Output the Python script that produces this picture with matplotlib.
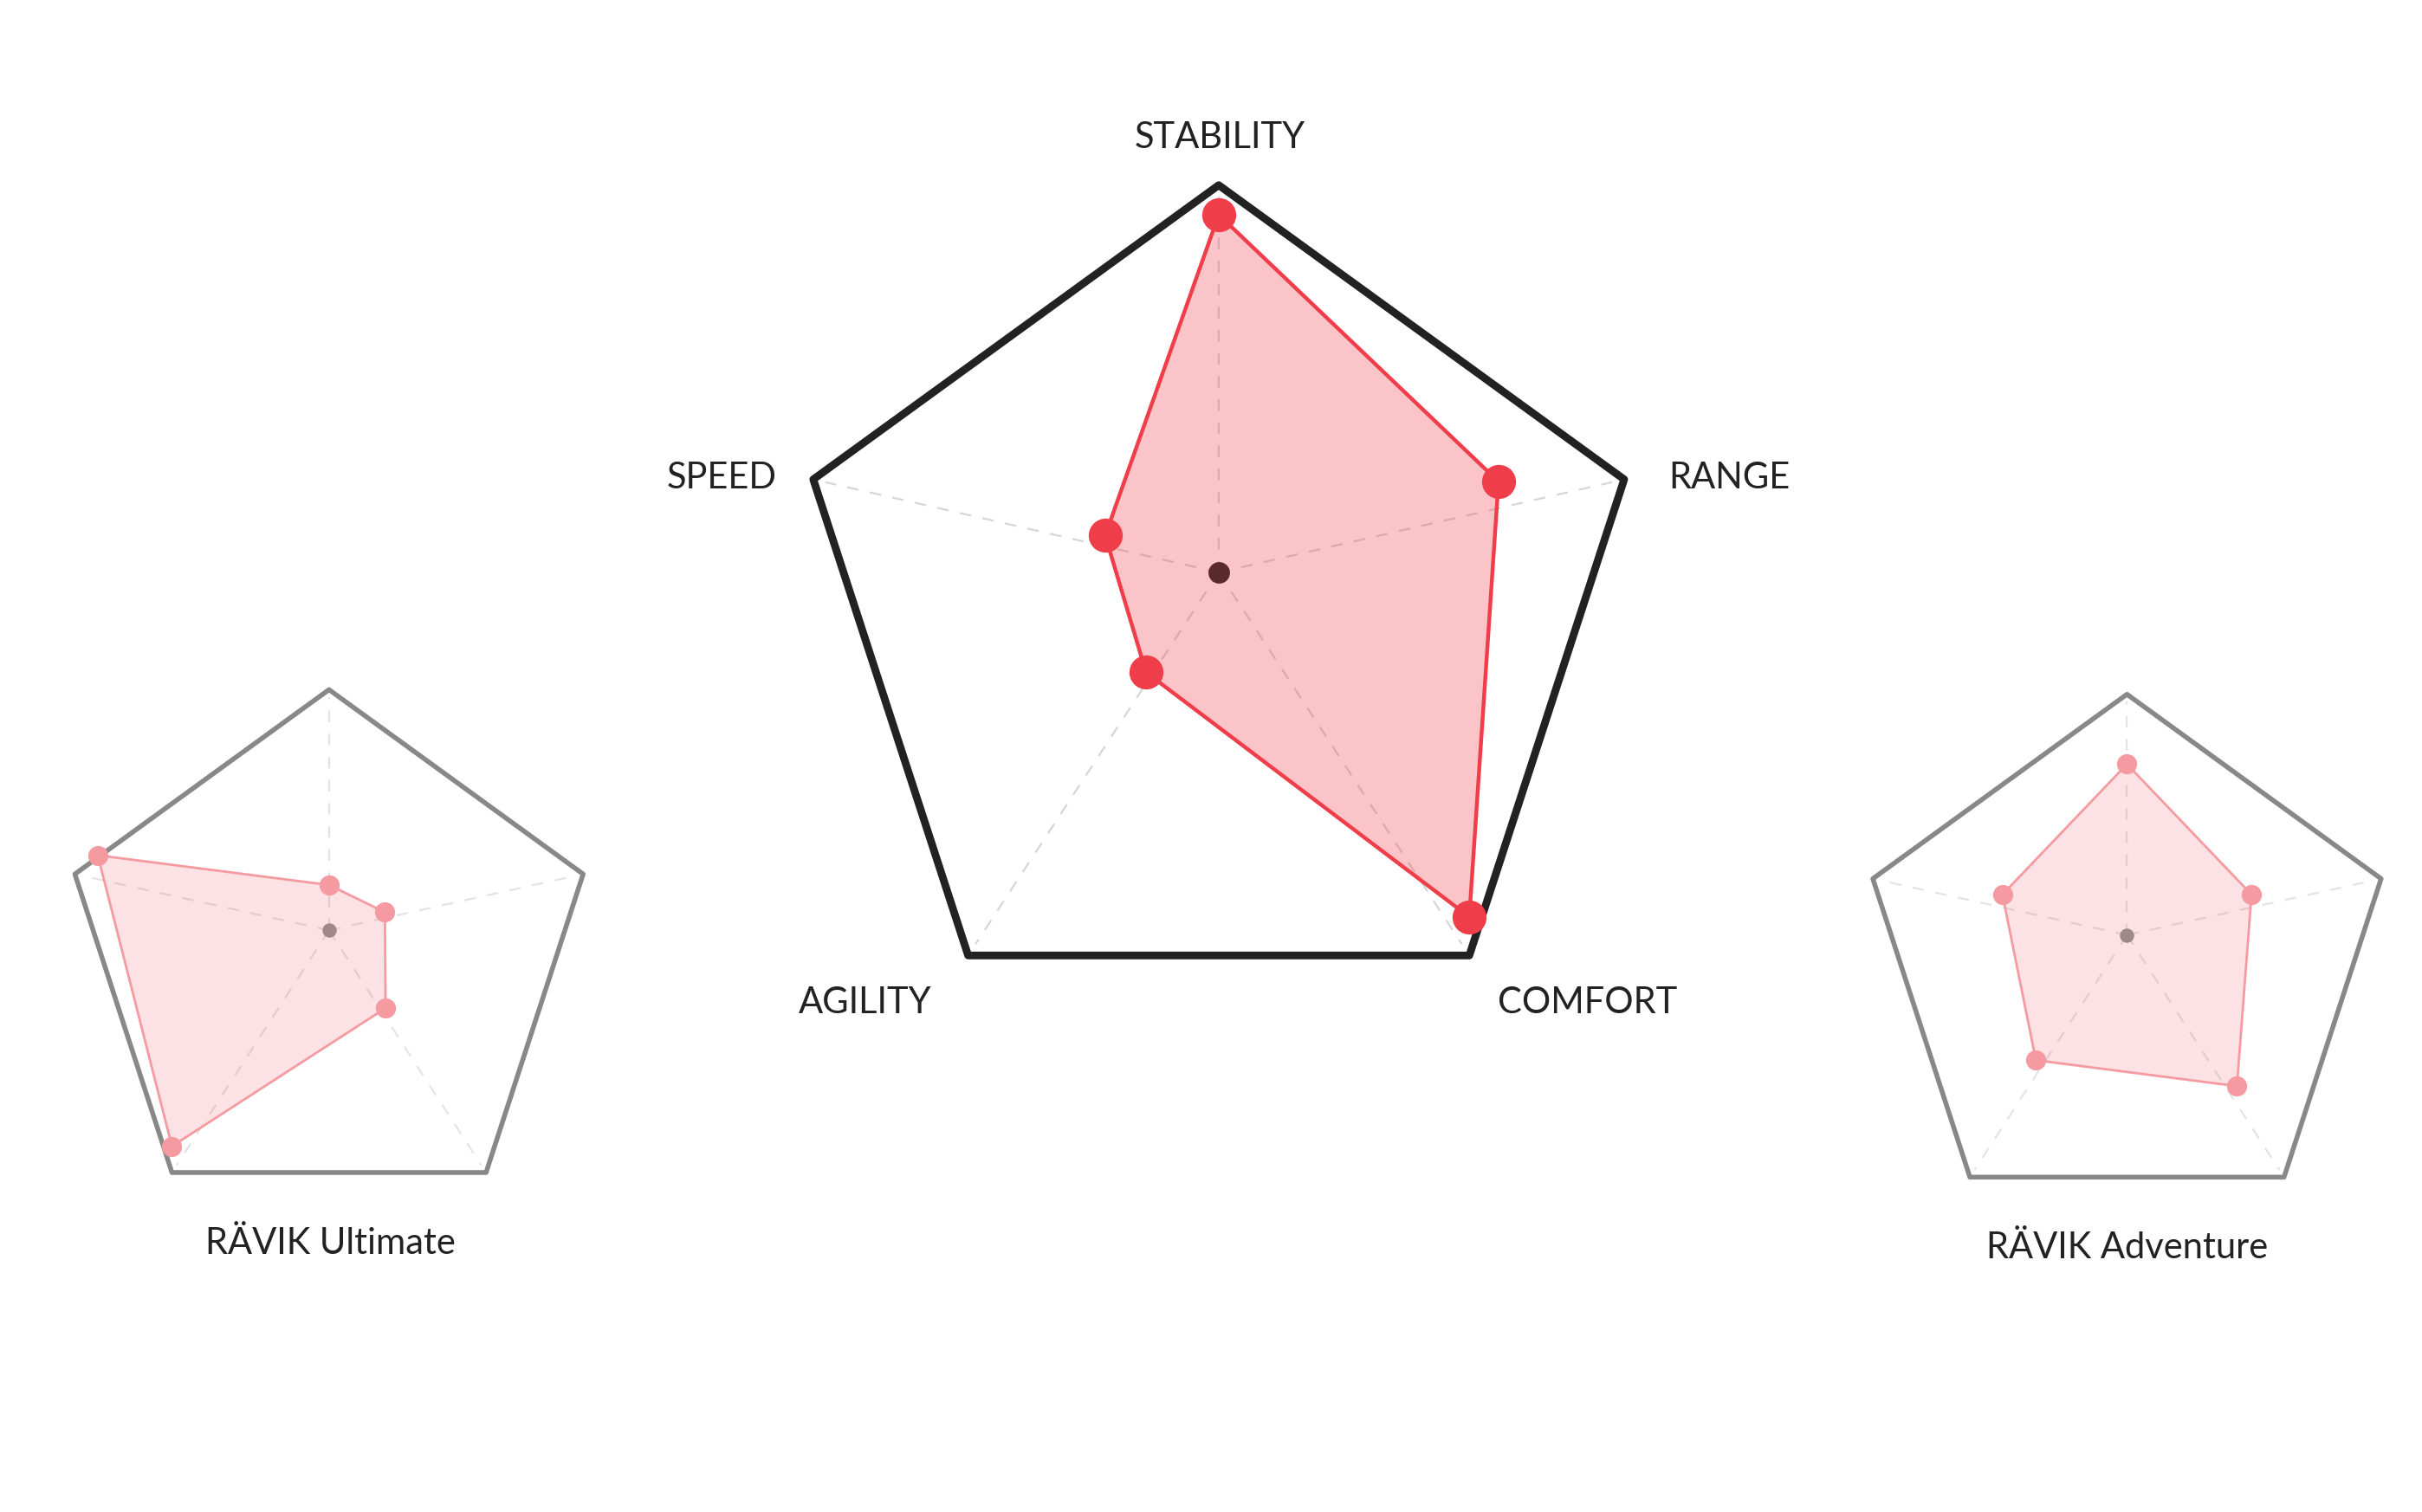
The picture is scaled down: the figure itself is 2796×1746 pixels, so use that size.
import numpy as np
import matplotlib
matplotlib.use("Agg")
import matplotlib.pyplot as plt

axes_names = ["STABILITY", "RANGE", "COMFORT", "AGILITY", "SPEED"]
main_values = [0.84, 0.69, 1.0, 0.29, 0.28]
ultimate_values = [0.17, 0.22, 0.36, 1.0, 0.91]
adventure_values = [0.64, 0.49, 0.70, 0.58, 0.49]
titles = ["RÄVIK Ultimate", "RÄVIK Adventure"]

W, H = 1568, 980
fig = plt.figure(figsize=(13.98, 8.73), dpi=200)
ax = fig.add_axes([0, 0, 1, 1])
ax.set_xlim(0, W); ax.set_ylim(H, 0); ax.axis("off")

ang = np.deg2rad([90, 18, -54, -126, 162])

def radar(cx, cy, R, vals, frame_col, frame_lw, fill_alpha, line_col, lw, ms, dot_dy, dot_col, dot_s, grid_alpha):
    vx = cx + R*np.cos(ang); vy = cy - R*np.sin(ang)
    ox, oy = cx, cy - dot_dy
    for x, y in zip(vx, vy):
        ax.plot([ox, ox + 0.97*(x-ox)], [oy, oy + 0.97*(y-oy)], ls=(0, (6, 6)),
                color="#bbbbbb", alpha=grid_alpha, lw=0.8, zorder=1)
    ax.fill(vx, vy, facecolor="none", edgecolor=frame_col, lw=frame_lw,
            joinstyle="round", zorder=2)
    v = np.array(vals)
    px = ox + R*v*np.cos(ang); py = oy - R*v*np.sin(ang)
    ax.fill(px, py, color="#ef3e4a", alpha=fill_alpha, lw=0, zorder=3)
    ax.plot(np.append(px, px[0]), np.append(py, py[0]), color=line_col, lw=lw, zorder=4)
    ax.scatter(px, py, s=ms, color=line_col, zorder=5, lw=0)
    ax.scatter([ox], [oy], s=dot_s, color=dot_col, zorder=5, lw=0)

font = dict(family=["Lato", "DejaVu Sans"], color="#222222", fontweight="normal")
radar(789, 396, 276, main_values, "#222222", 3.2, 0.3, "#ef3e4a", 1.6, 200, 25, "#5a2a2a", 80, 0.6)
lab = [(790, 89, "center"), (1080, 310, "left"), (1028, 650, "center"), (560, 650, "center"), (503, 310, "right")]
for (x, y, ha), n in zip(lab, axes_names):
    ax.text(x, y, n, ha=ha, va="center", fontsize=15, **font)

radar(213, 620, 173, ultimate_values, "#888888", 2.0, 0.15, "#f59aa0", 1.0, 70, 17, "#a08888", 35, 0.4)
radar(1377, 623, 173, adventure_values, "#888888", 2.0, 0.15, "#f59aa0", 1.0, 70, 17, "#a08888", 35, 0.4)
ax.text(214, 806, titles[0], ha="center", va="center", fontsize=15, **font)
ax.text(1377, 809, titles[1], ha="center", va="center", fontsize=15, **font)

fig.savefig("out.png", dpi=200, facecolor="white")
